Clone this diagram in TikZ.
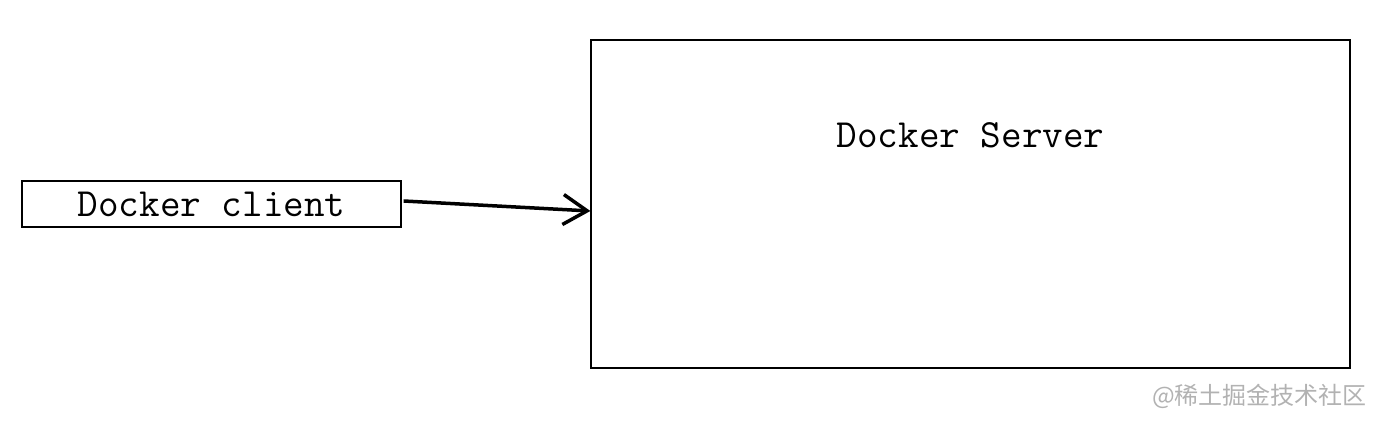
\documentclass[tikz,border=0pt]{standalone}
\usepackage{fontspec}
\newfontfamily\cjk{Noto Sans CJK SC}
\usepackage{xcolor}
\usepackage{tikz}
\usetikzlibrary{arrows.meta, positioning, calc}

\definecolor{markgray}{RGB}{178,178,178}

\begin{document}
\begin{tikzpicture}[%
  x=1pt, y=1pt,
  every node/.style={align=center},
  box/.style={draw, line width=1.2pt, inner sep=0pt, minimum width=379pt, minimum height=46pt, font=\fontsize{40}{40}\selectfont\ttfamily},
  bigbox/.style={draw, line width=1.2pt, inner sep=0pt, minimum width=759pt, minimum height=328pt},
  lbl/.style={font=\fontsize{40}{40}\selectfont\ttfamily, inner sep=0pt},
  arr/.style={-{Straight Barb[length=24pt, width=30pt, line width=3.5pt]}, line width=3.5pt}
]
\useasboundingbox (0,0) rectangle (1394,439);

% Client
\node[box] (client) at (211.5,235) {Docker client};

% Server
\node[bigbox] (server) at (970.5,235) {};
\node[lbl, anchor=base, below=0pt of server.north, yshift=-83pt] (title) {Docker Server};

% Arrow from client to server
\draw[arr] ([xshift=2pt, yshift=3pt]client.east) -- ([yshift=-7pt]server.west);

% Watermark
\node[font=\cjk\fontsize{24}{24}\selectfont, text=markgray, anchor=east, inner sep=0pt] (wm) at (1367,43) {@稀土掘金技术社区};
\end{tikzpicture}
\end{document}
